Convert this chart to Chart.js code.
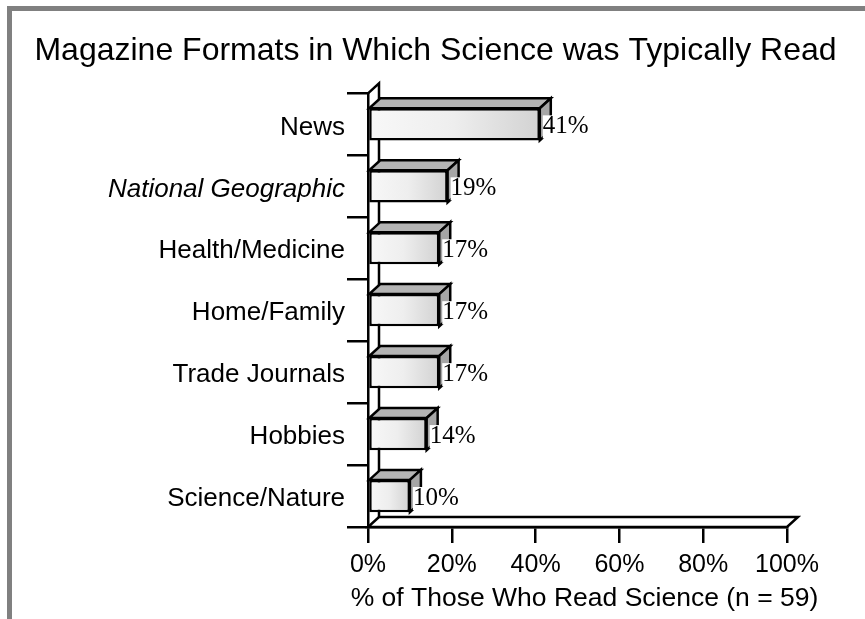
<!DOCTYPE html>
<html>
<head>
<meta charset="utf-8">
<script src="https://cdn.jsdelivr.net/npm/chart.js@4/dist/chart.umd.min.js"></script>
<style>
  html, body { margin: 0; padding: 0; background: #fff; }
  #wrap { position: relative; width: 865px; height: 619px; overflow: hidden; background: #fff; }
  #frame { position: absolute; left: 7px; top: 6px; right: 0; bottom: 0;
           border-top: 5px solid #808080; border-left: 5px solid #808080; }
  #c { position: absolute; left: 0; top: 0; }
</style>
</head>
<body>
<div id="wrap">
  <div id="frame"></div>
  <canvas id="c" width="865" height="619"></canvas>
</div>
<script>
// ---- data ----
const chartTitle = 'Magazine Formats in Which Science was Typically Read';
const axisTitle = '% of Those Who Read Science (n = 59)';
const categories = ['News', 'National Geographic', 'Health/Medicine', 'Home/Family', 'Trade Journals', 'Hobbies', 'Science/Nature'];
const italicCategories = ['National Geographic'];
const values = [41, 19, 17, 17, 17, 14, 10];
const xTickValues = [0, 20, 40, 60, 80, 100];
const xTickLabels = ['0%', '20%', '40%', '60%', '80%', '100%'];

// ---- style ----
const SANS = "'Liberation Sans', Arial, sans-serif";
const SERIF = "'Liberation Serif', 'Times New Roman', serif";
const DX = 11, DY = -10;

const threeD = {
  id: 'threeD',
  beforeDatasetsDraw(chart) {
    const { ctx, chartArea: a } = chart;
    const xs = chart.scales.x;
    const L = xs.getPixelForValue(xTickValues[0]);
    const R = xs.getPixelForValue(xTickValues[xTickValues.length - 1]);
    const T = a.top, B = a.bottom;
    ctx.save();
    ctx.lineWidth = 2.5;
    ctx.strokeStyle = '#000';
    ctx.lineJoin = 'miter';
    // back wall edge
    ctx.beginPath();
    ctx.moveTo(L, T);
    ctx.lineTo(L + DX, T + DY);
    ctx.lineTo(L + DX, B + DY);
    ctx.stroke();
    // floor
    ctx.beginPath();
    ctx.moveTo(L, B);
    ctx.lineTo(R, B);
    ctx.lineTo(R + DX, B + DY);
    ctx.lineTo(L + DX, B + DY);
    ctx.closePath();
    ctx.fillStyle = '#fff';
    ctx.fill();
    ctx.stroke();
    // bar top & side faces
    const meta = chart.getDatasetMeta(0);
    meta.data.forEach((bar) => {
      const p = bar.getProps(['x', 'y', 'base', 'height'], true);
      const x0 = p.base, x1 = p.x, yt = p.y - p.height / 2, yb = p.y + p.height / 2;
      ctx.beginPath();
      ctx.moveTo(x0, yt);
      ctx.lineTo(x1, yt);
      ctx.lineTo(x1 + DX, yt + DY);
      ctx.lineTo(x0 + DX, yt + DY);
      ctx.closePath();
      ctx.fillStyle = '#b4b4b4';
      ctx.fill();
      ctx.stroke();
      ctx.beginPath();
      ctx.moveTo(x1, yt);
      ctx.lineTo(x1 + DX, yt + DY);
      ctx.lineTo(x1 + DX, yb + DY);
      ctx.lineTo(x1, yb);
      ctx.closePath();
      ctx.fillStyle = '#a6a6a6';
      ctx.fill();
      ctx.stroke();
    });
    ctx.restore();
  },
  afterDatasetsDraw(chart) {
    const { ctx } = chart;
    const meta = chart.getDatasetMeta(0);
    ctx.save();
    ctx.font = '25px ' + SERIF;
    ctx.textBaseline = 'middle';
    ctx.textAlign = 'left';
    meta.data.forEach((bar, i) => {
      const p = bar.getProps(['x', 'y'], true);
      const txt = values[i] + '%';
      const w = ctx.measureText(txt).width;
      const tx = p.x + 3, ty = p.y + 2;
      ctx.fillStyle = '#fff';
      ctx.fillRect(tx, ty - 11, w + 1, 23);
      ctx.fillStyle = '#000';
      ctx.fillText(txt, tx, ty);
    });
    ctx.restore();
  },
  afterDraw(chart) {
    // x axis title, centred under the axis (including its depth)
    const { ctx } = chart;
    const xs = chart.scales.x;
    const cx = (xs.getPixelForValue(xTickValues[0]) + xs.getPixelForValue(xTickValues[xTickValues.length - 1])) / 2 + 7;
    ctx.save();
    ctx.font = '26.5px ' + SANS;
    ctx.fillStyle = '#000';
    ctx.textAlign = 'center';
    ctx.textBaseline = 'middle';
    ctx.fillText(axisTitle, cx, xs.bottom - 20);
    ctx.restore();
  }
};

function frontGradient(context) {
  const chart = context.chart;
  const xs = chart.scales.x;
  if (!xs || context.raw === undefined) return '#e6e6e6';
  const x0 = xs.getPixelForValue(0);
  const x1 = xs.getPixelForValue(context.raw);
  if (!isFinite(x0) || !isFinite(x1) || x1 <= x0) return '#e6e6e6';
  const g = chart.ctx.createLinearGradient(x0, 0, x1, 0);
  g.addColorStop(0, '#f8f8f8');
  g.addColorStop(0.5, '#eeeeee');
  g.addColorStop(1, '#d2d2d2');
  return g;
}

new Chart(document.getElementById('c'), {
  type: 'bar',
  data: {
    labels: categories,
    datasets: [{
      data: values,
      backgroundColor: frontGradient,
      borderColor: '#000',
      borderWidth: 2.5,
      borderSkipped: false,
      categoryPercentage: 1,
      barPercentage: 0.52
    }]
  },
  options: {
    indexAxis: 'y',
    responsive: false,
    devicePixelRatio: 1,
    animation: false,
    layout: { padding: { left: 34, right: 28, top: 0, bottom: 0 } },
    plugins: {
      legend: { display: false },
      tooltip: { enabled: false },
      title: {
        display: true,
        text: chartTitle,
        color: '#000',
        font: { family: SANS, size: 32, weight: 'normal' },
        padding: { top: 32, bottom: 23 }
      }
    },
    scales: {
      x: {
        type: 'linear',
        min: 0,
        max: 100,
        afterBuildTicks(scale) { scale.ticks = xTickValues.map(v => ({ value: v })); },
        afterFit(scale) { scale.height = 92; },
        ticks: {
          color: '#000',
          padding: 7,
          font: { family: SANS, size: 25 },
          callback: (v) => xTickLabels[xTickValues.indexOf(v)]
        },
        grid: { display: true, drawOnChartArea: false, drawTicks: true, tickLength: 16, color: '#000', lineWidth: 2.5 },
        border: { display: true, color: '#000', width: 2.5 },
        title: { display: false }
      },
      y: {
        type: 'category',
        afterFit(scale) { scale.width = 334; },
        ticks: {
          color: '#000',
          padding: 2,
          labelOffset: 3,
          font: (ctx) => ({
            family: SANS,
            size: 26,
            style: (ctx.tick && italicCategories.includes(ctx.tick.label)) ? 'italic' : 'normal'
          })
        },
        grid: { display: true, offset: true, drawOnChartArea: false, drawTicks: true, tickLength: 21, color: '#000', lineWidth: 2.5 },
        border: { display: true, color: '#000', width: 2.5 }
      },
      yRight: {
        type: 'linear',
        position: 'right',
        display: true,
        afterFit(scale) { scale.width = 50; },
        ticks: { display: false },
        grid: { display: false, drawTicks: false },
        border: { display: false }
      }
    }
  },
  plugins: [threeD]
});
</script>
</body>
</html>
